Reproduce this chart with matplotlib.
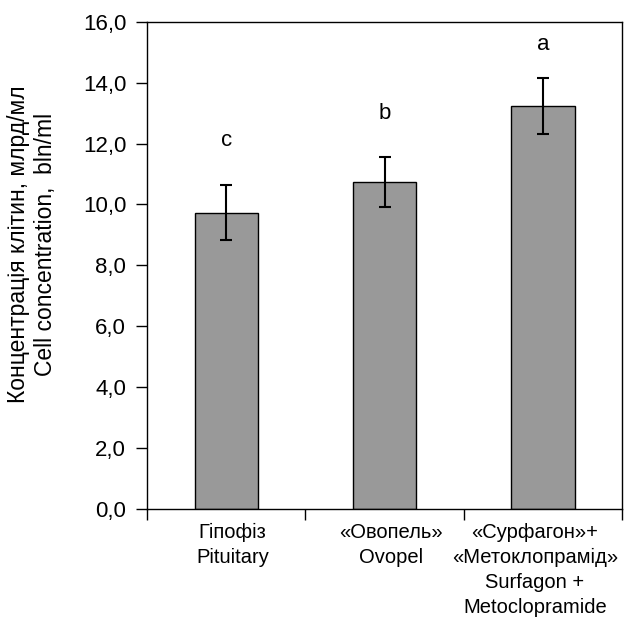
import numpy as np
import matplotlib.pyplot as plt

# Концентрація клітин за різних препаратів
groups = ["Гіпофіз\nPituitary",
          "«Овопель»\nOvopel",
          "«Сурфагон»+\n«Метоклопрамід»\nSurfagon +\nMetoclopramide"]
means = [9.73, 10.74, 13.25]
errors = [0.90, 0.82, 0.92]
letters = ["c", "b", "a"]
letter_y = [12.1, 13.0, 15.25]
yticks = np.arange(0, 17, 2)

plt.rcParams['font.family'] = ['Liberation Sans', 'DejaVu Sans']

fig = plt.figure(figsize=(6.31, 6.23), dpi=100)
ax = fig.add_axes([0.233, 0.183, 0.753, 0.782])

x = np.arange(len(groups))
ax.bar(x, means, width=0.4, color='#999999', edgecolor='black', linewidth=1)
ax.errorbar(x, means, yerr=errors, fmt='none', ecolor='black',
            elinewidth=1.5, capsize=4, capthick=1.5)

for xi, lab, yl in zip(x, letters, letter_y):
    ax.text(xi, yl, lab, ha='center', va='center', fontsize=16)

ax.set_xlim(-0.5, 2.5)
ax.set_ylim(0, 16)
ax.set_yticks(yticks)
ax.set_yticklabels([f"{v:.1f}".replace('.', ',') for v in yticks], fontsize=16)

# ticks between categories
ax.set_xticks([-0.5, 0.5, 1.5, 2.5])
ax.set_xticklabels([])
ax.tick_params(axis='both', direction='out', length=8, width=1)
ax.tick_params(axis='y', pad=7)
label_dx = [0.04, 0.04, -0.05]
for xi, g, dx in zip(x, groups, label_dx):
    ax.text(xi + dx, -0.45, g, ha='center', va='top', fontsize=14.5,
            linespacing=1.4)

for s in ax.spines.values():
    s.set_linewidth(1)

fig.text(32 / 631, 1 - 244 / 623,
         "Концентрація клітин, млрд/мл\nCell concentration,  bln/ml",
         rotation=90, ha='center', va='center', multialignment='center',
         fontsize=16.5, linespacing=1.2)

plt.savefig("out.png", dpi=100)
plt.close()
